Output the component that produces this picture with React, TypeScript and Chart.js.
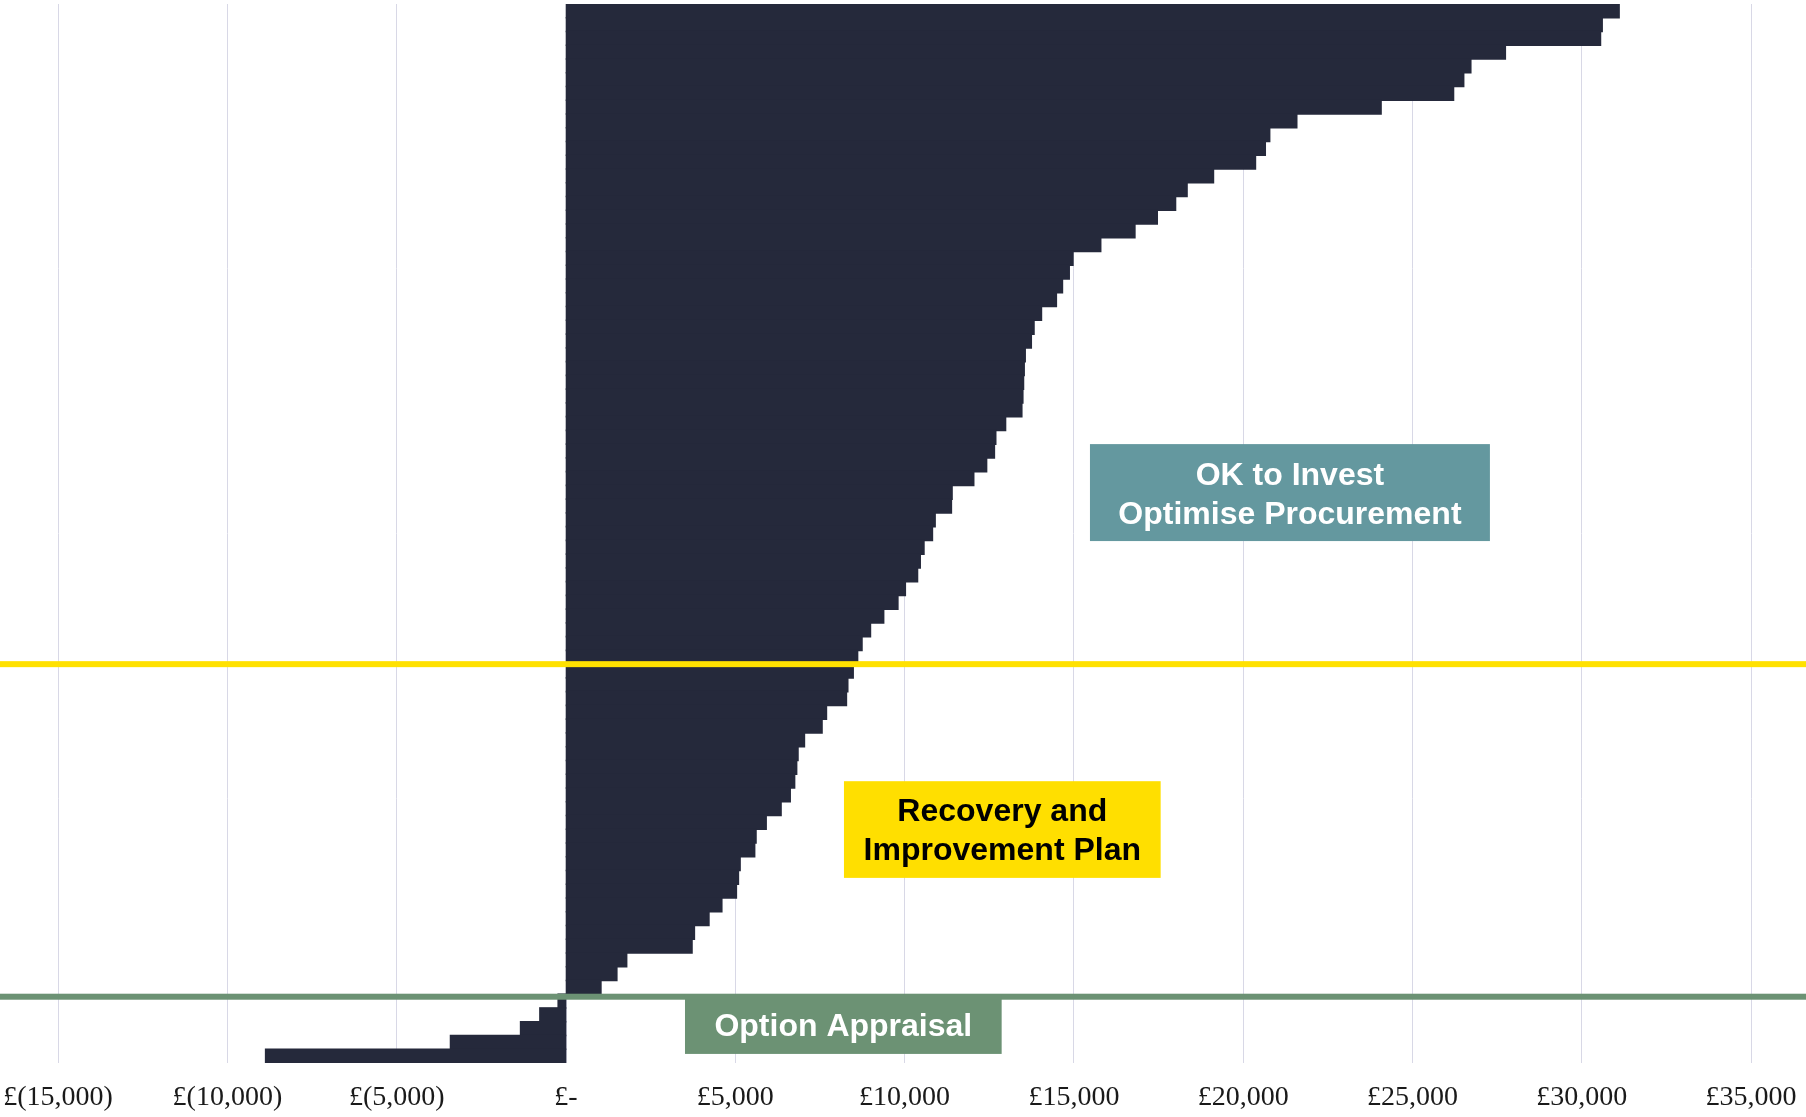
import React, { useEffect, useRef } from "react";
import { Chart, registerables } from "chart.js";

Chart.register(...registerables);

// Annual saving per organisation, ranked from highest to lowest (£)
const savings = [
  31100, 30600, 30550, 27740, 26720, 26510, 26210, 24070, 21580, 20780,
  20650, 20360, 19120, 18340, 18000, 17460, 16800, 15790, 14970, 14860,
  14660, 14480, 14040, 13820, 13740, 13560, 13530, 13510, 13490, 13460,
  12980, 12690, 12650, 12420, 12040, 11400, 11380, 10900, 10820, 10570,
  10460, 10380, 10020, 9800, 9380, 8990, 8740, 8610, 8480, 8320,
  8280, 7690, 7560, 7040, 6850, 6810, 6750, 6620, 6350, 5910,
  5610, 5570, 5140, 5090, 5030, 4600, 4220, 3790, 3720, 1790,
  1500, 1030, -230, -770, -1340, -3410, -8870,
];

// One category per organisation (labels are not shown on the axis)
const organisations = savings.map((_, i) => `Organisation ${i + 1}`);

// Value axis ticks (£)
const tickValues = [-15000, -10000, -5000, 0, 5000, 10000, 15000, 20000, 25000, 30000, 35000];

// Value axis extent
const X_MIN = -16716;
const X_MAX = 36621;

const BAR_COLOR = "#25293b";

// Threshold lines between ranked organisations (category-axis position)
const thresholds = [
  { at: 47.5, color: "#ffe100" },
  { at: 71.68, color: "#6c9274" },
];

// Labelled zones, placed in value / category coordinates
const zones = [
  {
    lines: ["OK to Invest", "Optimise Procurement"],
    x0: 15474, x1: 27286, y0: 31.5, y1: 38.55,
    fill: "#64989f", color: "#ffffff",
  },
  {
    lines: ["Recovery and", "Improvement Plan"],
    x0: 8209, x1: 17562, y0: 56.01, y1: 63.04,
    fill: "#ffdf00", color: "#000000",
  },
  {
    lines: ["Option Appraisal"],
    x0: 3514, x1: 12866, y0: 71.5, y1: 75.84,
    fill: "#6c9274", color: "#ffffff",
  },
];

const formatPounds = (v: number) => {
  if (v === 0) return "£-";
  const s = Math.abs(v).toLocaleString("en-GB");
  return v < 0 ? `£(${s})` : `£${s}`;
};

const zonesPlugin = {
  id: "zones",
  afterDatasetsDraw(chart: any) {
    const { ctx, chartArea, scales } = chart;
    const x = scales.x;
    const y = scales.y;
    ctx.save();
    for (const t of thresholds) {
      const py = y.getPixelForValue(t.at);
      ctx.fillStyle = t.color;
      ctx.fillRect(chartArea.left, py - 3, chartArea.right - chartArea.left, 6);
    }
    const size = 32;
    const gap = 39;
    for (const z of zones) {
      const left = x.getPixelForValue(z.x0);
      const right = x.getPixelForValue(z.x1);
      const top = y.getPixelForValue(z.y0);
      const bottom = y.getPixelForValue(z.y1);
      ctx.fillStyle = z.fill;
      ctx.fillRect(left, top, right - left, bottom - top);
      ctx.fillStyle = z.color;
      ctx.font = `bold ${size}px "Liberation Sans", Arial, sans-serif`;
      ctx.textAlign = "center";
      ctx.textBaseline = "alphabetic";
      const cx = (left + right) / 2;
      const cy = (top + bottom) / 2;
      z.lines.forEach((s, i) => {
        ctx.fillText(s, cx, cy + (i - (z.lines.length - 1) / 2) * gap + 0.358 * size);
      });
    }
    ctx.restore();
  },
};

export default function App() {
  const ref = useRef<HTMLCanvasElement>(null);

  useEffect(() => {
    const canvas = ref.current;
    if (!canvas) return;
    const chart = new Chart(canvas, {
      type: "bar",
      data: {
        labels: organisations,
        datasets: [
          {
            data: savings,
            backgroundColor: BAR_COLOR,
            borderWidth: 0,
            barPercentage: 1,
            categoryPercentage: 1,
            inflateAmount: 0.8,
          },
        ],
      },
      options: {
        indexAxis: "y",
        responsive: false,
        animation: false,
        devicePixelRatio: 1,
        layout: { padding: { top: 4, bottom: -15.6, left: 0, right: 0 } },
        plugins: {
          legend: { display: false },
          tooltip: { enabled: false },
        },
        scales: {
          x: {
            type: "linear",
            min: X_MIN,
            max: X_MAX,
            afterBuildTicks: (scale: any) => {
              scale.ticks = tickValues.map((value) => ({ value }));
            },
            afterFit: (scale: any) => {
              scale.paddingLeft = 0;
              scale.paddingRight = 0;
            },
            grid: { color: "#d8d8e6", lineWidth: 1, drawTicks: false },
            border: { display: false },
            ticks: {
              padding: 18,
              color: "#1a1a1a",
              autoSkip: false,
              maxRotation: 0,
              font: { family: '"Liberation Serif", "Times New Roman", serif', size: 28 },
              callback: (v: any) => formatPounds(Number(v)),
            },
          },
          y: {
            display: false,
            grid: { display: false },
          },
        },
      } as any,
      plugins: [zonesPlugin],
    });
    return () => chart.destroy();
  }, []);

  return (
    <div style={{ position: "fixed", left: 0, top: 0, width: 1806, height: 1117, background: "#ffffff" }}>
      <canvas ref={ref} width={1806} height={1117} style={{ display: "block" }} />
    </div>
  );
}
